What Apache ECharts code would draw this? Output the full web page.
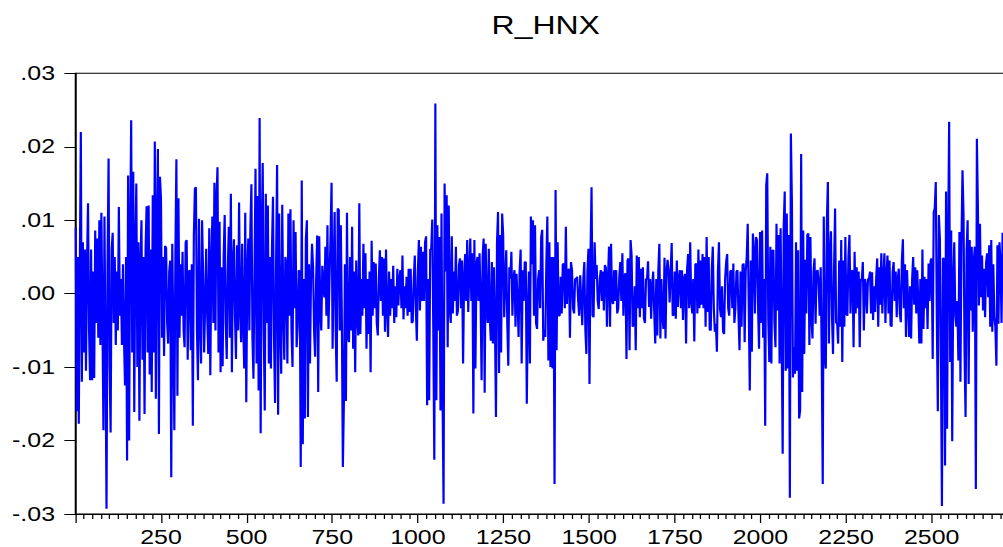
<!DOCTYPE html>
<html>
<head>
<meta charset="utf-8">
<script src="https://cdn.jsdelivr.net/npm/echarts@6/dist/echarts.min.js"></script>
<style>
  html, body { margin: 0; padding: 0; background: #fff; overflow: hidden; }
  #wrap { width: 1003px; height: 547px; overflow: hidden; }
  /* wide-set lettering: the chart is laid out 784px wide and widened to 1003px */
  #chart { width: 784px; height: 547px; transform: scaleX(1.2793); transform-origin: 0 0; }
</style>
</head>
<body>
<div id="wrap"><div id="chart"></div></div>
<script>
// R_HNX daily returns, in thousandths, one reading every third observation.
const returnsObs1 = [
  9, -16, 5, -17.7, 3, 22, -12, 7, -8, 6,
  -10.5, 4, 12.3, -5, -11.8, 6, -11.8, 3, -11.5, 8.6,
  -4, 7.5, -6, 10, -7, 11, -3, -18.6, 10.5, -8,
  -29.3, 4, 18.4, -10, -18.9, 6, 8.3, -4, 5, -7,
  3, -5, 11.8, -3, 2, -7, 4, -6, -12.5, 5,
  -22.7, 16.1, -20, 8, 23.6, -8, 16.6, -16.1, 6, 15,
  -10, 7, -17.3, 4, 10, -9, 5, -16.4, 6, 11.9,
  -8, 12, -11, 6, -13.4, 13.4, -8, 20.7, -14.3, 9,
  19.7, -19.1, 15.9, 13, -6, 5, -8.5, 6.5, 6.2, -4,
  -6.8, 3, 4.5, -25, 6.8, -5, -18.6, 5, 18.3, -13.9,
  13, -6, 4, -3, 5.7, -5, -7.3, 7, 7.3, -9,
  3, 3.2, -7.7, 4, -18, 8, 14.3, 14.5, -5, -11.8,
  10.2, -4, -9.5, 10, 2.7, -8, -1.4, 6.1
];
const returnsObs385 = [
  -3, -8.2, 8.9, -11.1, 4, 10.5, -4, 15.1, -5, 13,
  17.2, -8, 9.8, -10.7, 3.6, -9.9, 5, 10.7, -4, -8.9,
  3, 9.1, -6, 13.6, -10.7, 4, 7.4, -3, -8.9, 6.6,
  -5, 12.4, -2, -6.6, 6.8, -4, -10.2, 11, -14.8, 3,
  7.5, -5, 9, 14.9, -6, -11.6, 3, 17, -9.5, 13.3,
  -13.2, 23.9, -19, 7.8, 17.8, -5, -15.9, 13.6, -4, 12,
  -9.5, 5, -10.2, 6.1, 13.2, -6, -14.9, 4, 17.5, -16.5,
  10.9, -4, -10.9, 12.1, -2, -9, 5, 4.1, -9.5, 10.9,
  -3, 11.5, -5, -10, 10, -2, 8.4, -7.3, -4.5, 3.2,
  3, -23.6, 15.4, -20.5, 2, -17, 7.4, 10, -16.8, 4,
  -9.5, 2, 6.8, 3.6, -5, -8.6, 2, 7.9, -13.4, 7.8,
  -2, -5, 3.8, 1, -0.5, 6.4, -3, 9.3, -4.8, 2,
  7.7, 15.1, -7.5, 3, 11.1, -5, -12, 11.6, 11.4, -5
];
const returnsObs775 = [
  9.3, -3, -23.6, -14.8, 4, -14.6, 11, -6, -6.6, 5,
  -5, 9.1, -7.5, 3, -10.7, 4.5, -3, -5.7, 12.3, -5.5,
  2, -3, 6.8, -2, 5.5, -7.5, 2, -5.5, 3, -10.7,
  7.2, -3, 4.3, -2, 4.1, -4, -5.7, 2, 5.9, -1,
  5, -3, 4.8, -5.2, 6, -2, -5.9, 3, -3, 2,
  -2, 3.8, -4, 1, -3.2, 3.4, -1.6, 2, 3.2, -2,
  5.2, -3.5, 1, -2, 2.3, -3, 3.4, -2.5, 3.4, -4,
  -3.8, 2, 5.2, -2, -6.4, 3, 7.3, -2.3, 6.4, -1,
  5.7, -1, 7, 7.8, -15.2, 2, -14.5, 6, 6.1, 10.1,
  -5, -22.6, 25.9, -14.5, 9.3, -5, 7.7, -15.9, 10.9, -13.6,
  -28.6, 15, 3, 13.4, -7.3, 12, -2, -4, 7.8, -2.7,
  3, -1, 6.4, -3, -2.3, 3.9, 4.8, -2, 4.5, -9.5,
  2, 5.4, -1, 7.3, -2.5, 3, 7.5, -1, 5.5
];
const returnsObs1162 = [
  -16.3, 7.3, -10.2, 4, 5, -1, 5.5, -0.5, -11.8, 5,
  7.5, -13.5, 6.8, -2, -4, 6.1, -3.4, -6.4, 4.3, -6.8,
  3.6, -4, -16.8, 7, 11.1, -10.8, 8, -8, 10.9, 8,
  -3.2, 2, 5.9, -4, -9.8, 3.6, 2, 5.7, -3, 2,
  3.2, -4.5, 2.7, -1, -5.9, 3, 6, -9.5, 3.2, -1,
  4.3, 4.3, -15, -2.3, 3, -9.5, 10.5, 4, 10, -3,
  9.3, -4, -4.8, 2, 3.2, -2, 7.7, 8.7, -6.4, -5,
  -5.9, 4, 10.5, -9.1, 7, -10, 5, -10.2, 5, -25.9,
  14.1, -7.7, 7, -3, -3, 2.3, -2.7, 4, 4.1, -2,
  9.1, -1.4, 3, 3.4, -6, 4.3, 3.2, -2, -2.7, 2,
  2, 2.3, -1, -3, 2.5, -1, -4.3, 2, 4.3, -5,
  -8.2, 3, 6.1, -12.3, 5.4, 14.5, -3, -3.2, 7, 2,
  3.9, -1, -2.1, 2, 3.2, -1, 3, -2.3, 3.9
];
const returnsObs1549 = [
  3.5, -4.5, 2, 6.4, -4.5, 6.8, -1, -1.4, 3.2, -1,
  3.2, -2.7, -2, 2.3, 4.3, -1, 5.5, -3, 2.3, 2.8,
  -8.9, 4.5, 4.8, -7.7, 7.3, 5.2, -4.5, -4.3, 1, -7.7,
  5.2, -2, 5, -3.2, 3.4, -2, 3.6, -3.4, -4, 2,
  2, 4.4, -1.8, 2, -3.4, 1, 3, -2.5, -6.8, 2,
  -5.7, 3.2, 6.8, -6.1, 2, -3, -4.8, 4.9, -6.1, 3,
  4.6, 3, -1.2, 3, 6.9, -3, -2.9, 3, -3.4, 4.5,
  -1.8, 2, 3.2, -2, 3.2, -3.6, 2, 2.7, -6.8, 3.4,
  5.4, -2, 7, -0.9, -2.7, 2, -6.5, 4, 4.1, -2.7,
  6, -2, 4.5, -1.5, 5.4, -2, 5, -4.5, 7.7, -2.5,
  5, -4.9, -5, 3.2, 6.4, -2, -5.2, -4.1, -7.9, 3,
  7, -2, -3.2, 1, -5.2, -5.5, 2, 4.3, 5.4, -2,
  -3, 3, 3.2, -2, 4.1, -4, -2, 3, 3.2
];
const returnsObs1936 = [
  -3, -7.7, 3, -4.5, 3.9, 4.1, -6.6, 3, 5, 9.5,
  -2, -13.2, 4.5, -7.9, 8.2, 5.7, -2.7, 7.7, 7.3, -1.4,
  -7.5, 8.4, -4, 8.6, -6, 2, -18, 14.8, 16.4, -3.6,
  -9.3, 6.4, -9.5, 5.9, 5.9, -4, -7.3, 9.5, -2.3, 8,
  -9.5, 8.9, -5, -21.8, 9.1, 13.9, -10.5, 10.9, -10.2, 8,
  -27.8, 21.8, 12.3, -11.4, -7.3, -10.9, 7, -10.5, 5.9, -17,
  -15.9, 19, -13.4, 8.6, -8.2, 4.6, -2.7, 8, 8.2, -7,
  7.7, -3.2, -6.1, 3, 4.8, -4.1, 3, 3.2, 1.4, -3,
  3.6, -8.2, -25.9, 10.5, -8.6, -10.2, 9.8, 15.2, -6.8, 5,
  8.5, -3, -8.2, 3.2, 11.6, -4, -4, -6.8, 4.5, -4.5,
  7.3, -9.3, 4.5, -4.5, 7.7, -2.7, -3, 5, 8, -2.7,
  3, 3.2, -7.3, 5.7, -2.7, 3.6, -2, 3, -7.3, 2,
  1.8, 4.3, -5, 2, 1.1, -2.7, 2, 2, 3, -2.7
];
const returnsObs2326 = [
  2.9, -3.6, 1, -2.5, 2.1, 4.8, -4.5, 3.6, -1.5, 5.5,
  -2.7, 2, 5.5, -4, 2.5, 5.2, -2.7, 4.5, -4.3, -4.5,
  3, 4.3, -1, 3, -3.2, 2, 3.4, -2.7, -3.9, 4.5,
  7.4, -2, 4, -5.9, 3.2, -1, -5.9, 1, -6.1, 2,
  5, -1.5, 3.6, -2.7, 3.2, -1.4, -6.8, 2, -6.8, 6,
  -4.8, 2.3, -2, 2, -4.8, 4.1, -1, 4.5, 4.8, -8.9,
  11.1, 11.6, 15.2, -3.2, -16, 10.7, 7.5, -9.1, -28.9, 4.8,
  4.8, -23.4, 13.9, -18.4, 6.6, 23.4, -9.3, 8.6, -20.1, 1.8,
  7, -3, -4.5, -1, -9.1, 8.4, -12, 7, 16.8, 10.9,
  -8, -16.8, 5.9, 10, -12.3, 7.3, -2.3, 6.4, -5.2, 4.5,
  6.4, -26.6, 21.1, 11.6, -1.6, 9.5, -0.5, 5.2, -2.3, 3.4,
  -3.2, 4.3, 5.5, -0.5, 6.6, -4.5, 7.3, -5.2, 4, -3.2,
  -4.5, -9.8, 6.6, -4.1, 7, 4, -4, 8.3
];

// first observation number of each block above, and the spacing between readings
const blockFirstObs = [1, 385, 775, 1162, 1549, 1936, 2326];
const blockReturns = [returnsObs1, returnsObs385, returnsObs775, returnsObs1162,
                      returnsObs1549, returnsObs1936, returnsObs2326];
const obsStep = 3;

// axis ticks and their labels
const xTickValues = [250, 500, 750, 1000, 1250, 1500, 1750, 2000, 2250, 2500];
const yTickLabels = ['-.03', '-.02', '-.01', '.00', '.01', '.02', '.03'];

const series = [];
blockReturns.forEach((vals, b) => {
  vals.forEach((v, k) => series.push([blockFirstObs[b] + k * obsStep, v / 1000]));
});

const font = "'Liberation Sans', Arial, sans-serif";
const chart = echarts.init(document.getElementById('chart'), null, { renderer: 'svg' });
chart.setOption({
  animation: false,
  backgroundColor: '#fff',
  title: {
    text: 'R_HNX',
    left: 426.6,
    top: 13,
    padding: 0,
    textAlign: 'center',
    textStyle: { fontFamily: font, fontSize: 25, fontWeight: 'normal', color: '#000' }
  },
  grid: {
    left: 58.9, top: 73.3, width: 736.3, height: 440.7,
    outerBoundsMode: 'none',
    containLabel: false,
    show: true, borderColor: '#000', borderWidth: 1, backgroundColor: 'transparent'
  },
  xAxis: {
    type: 'value',
    min: 0, max: 2750, interval: 250,
    axisLine: { show: true, onZero: false, lineStyle: { color: '#000', width: 1 } },
    axisTick: { show: true, length: 9, lineStyle: { color: '#000', width: 1 } },
    minorTick: { show: true, splitNumber: 10, length: 5, lineStyle: { color: '#000', width: 1 } },
    splitLine: { show: false },
    axisLabel: {
      margin: 13, fontFamily: font, fontSize: 19.5, color: '#000',
      formatter: v => (xTickValues.indexOf(Math.round(v)) >= 0 ? String(Math.round(v)) : '')
    }
  },
  yAxis: {
    type: 'value',
    min: -0.03, max: 0.03, interval: 0.01,
    axisLine: { show: true, lineStyle: { color: '#000', width: 1 } },
    axisTick: { show: true, length: 8.6, lineStyle: { color: '#000', width: 1 } },
    splitLine: { show: false },
    axisLabel: {
      margin: 15.9, fontFamily: font, fontSize: 19.5, color: '#000',
      formatter: v => yTickLabels[Math.round((v + 0.03) / 0.01)] || ''
    }
  },
  series: [{
    type: 'line',
    data: series,
    showSymbol: false,
    symbol: 'none',
    lineStyle: { color: '#0000ff', width: 1.7 },
    silent: true
  }]
});
</script>
</body>
</html>
